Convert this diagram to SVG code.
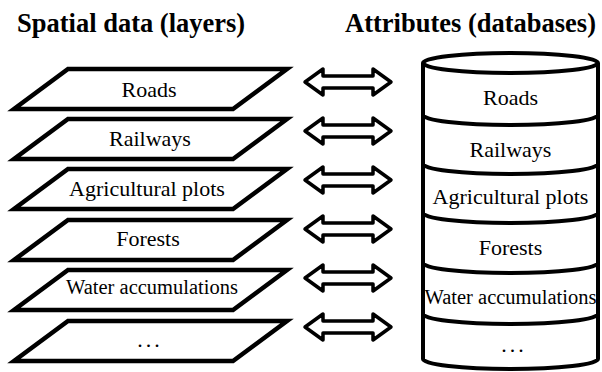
<svg xmlns="http://www.w3.org/2000/svg" width="602" height="372" viewBox="0 0 602 372">
<defs>
<polygon id="para" points="68,0 287,0 233,40 14,40" fill="#fff" stroke="#000" stroke-width="4.5"/>
<polygon id="dbl" points="305,0 323,-13 323,-6 373,-6 373,-13 391,0 373,13 373,6 323,6 323,13" fill="#fff" stroke="#000" stroke-width="3.5" stroke-linejoin="round"/>
<path id="arc" d="M423,0 A87.5,10 0 0 0 598,0" fill="none" stroke="#000" stroke-width="4"/>
</defs>
<rect width="602" height="372" fill="#fff"/>
<text font-family="Liberation Serif, serif" font-size="26.5" font-weight="bold" x="17" y="32">Spatial data (layers)</text>
<text font-family="Liberation Serif, serif" font-size="26.5" font-weight="bold" x="345" y="32">Attributes (databases)</text>

<g id="layer-roads"><use href="#para" y="69"/><text font-family="Liberation Serif, serif" font-size="22" text-anchor="middle" x="149" y="97">Roads</text></g>
<g id="layer-railways"><use href="#para" y="119"/><text font-family="Liberation Serif, serif" font-size="22" text-anchor="middle" x="150" y="146">Railways</text></g>
<g id="layer-agri"><use href="#para" y="169"/><text font-family="Liberation Serif, serif" font-size="22" text-anchor="middle" x="147" y="196">Agricultural plots</text></g>
<g id="layer-forests"><use href="#para" y="220"/><text font-family="Liberation Serif, serif" font-size="22" text-anchor="middle" x="148" y="246">Forests</text></g>
<g id="layer-water"><use href="#para" y="270"/><text font-family="Liberation Serif, serif" font-size="20.5" text-anchor="middle" x="152" y="294">Water accumulations</text></g>
<g id="layer-more"><use href="#para" y="321"/><text font-family="Liberation Serif, serif" font-size="22" letter-spacing="3" text-anchor="middle" x="150" y="347">...</text></g>

<g id="connectors">
<use href="#dbl" y="82"/>
<use href="#dbl" y="131"/>
<use href="#dbl" y="180"/>
<use href="#dbl" y="229"/>
<use href="#dbl" y="278"/>
<use href="#dbl" y="327"/>
</g>

<g id="database">
<path d="M423,63 L423,359 A87.5,10 0 0 0 598,359 L598,63" fill="#fff" stroke="#000" stroke-width="4"/>
<ellipse cx="510.5" cy="63" rx="87.5" ry="10" fill="#fff" stroke="#000" stroke-width="4"/>
<use href="#arc" y="115"/>
<use href="#arc" y="164"/>
<use href="#arc" y="213"/>
<use href="#arc" y="263"/>
<use href="#arc" y="314"/>
</g>
<g id="db-roads"><text font-family="Liberation Serif, serif" font-size="22" text-anchor="middle" x="510.5" y="105">Roads</text></g>
<g id="db-railways"><text font-family="Liberation Serif, serif" font-size="22" text-anchor="middle" x="510.5" y="157">Railways</text></g>
<g id="db-agri"><text font-family="Liberation Serif, serif" font-size="22" text-anchor="middle" x="510.5" y="204">Agricultural plots</text></g>
<g id="db-forests"><text font-family="Liberation Serif, serif" font-size="22" text-anchor="middle" x="510.5" y="255">Forests</text></g>
<g id="db-water"><text font-family="Liberation Serif, serif" font-size="20.5" text-anchor="middle" x="510.5" y="304">Water accumulations</text></g>
<g id="db-more"><text font-family="Liberation Serif, serif" font-size="22" letter-spacing="3" text-anchor="middle" x="514" y="352">...</text></g>
</svg>
